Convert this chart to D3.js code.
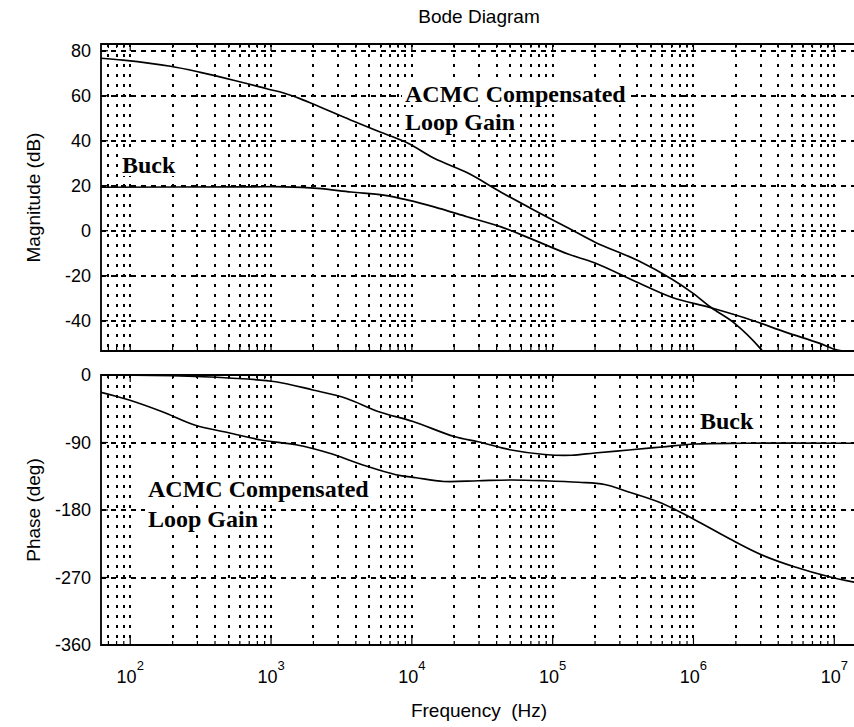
<!DOCTYPE html>
<html>
<head>
<meta charset="utf-8">
<script src="https://cdn.jsdelivr.net/npm/d3@7/dist/d3.min.js"></script>
<style>
  body { margin: 0; background: #fff; }
  svg { display: block; }
  text { font-family: "Liberation Sans", Arial, sans-serif; fill: #000; }
  .note { font-family: "Liberation Serif", "Times New Roman", serif; font-weight: bold; }
</style>
</head>
<body>
<svg id="chart" width="854" height="727"></svg>
<script>
// ===============================
// Dades (llegides del gràfic)
// ===============================
const acmcMagFreq = [61, 89, 193, 315, 542, 946, 1230, 1620, 2150, 3700, 6300, 9400, 14400, 25000, 43000, 74000, 130000, 200000, 410000, 700000, 1000000, 1350000, 1950000, 2970000, 3300000];
const acmcMag = [76.7, 75.8, 73.1, 70.4, 66.9, 63.0, 61.2, 58.6, 55.4, 49.1, 43.3, 38.9, 32.2, 25.6, 17.1, 9.1, 1.1, -5.1, -13.5, -21.5, -28.0, -34.4, -41.1, -52.2, -56];

const buckMagFreq = [62, 716, 1230, 2150, 3700, 6300, 9400, 14400, 25000, 43000, 74000, 130000, 200000, 410000, 700000, 1350000, 2600000, 4500000, 7800000, 10500000, 14500000];
const buckMag = [19.3, 19.5, 19.5, 18.8, 17.2, 15.8, 13.6, 10.6, 6.1, 1.7, -4.2, -10.5, -14.4, -23.3, -29.6, -34.4, -39.8, -45.1, -50, -53.1, -54];

const buckPhaseFreq = [62, 200, 500, 1080, 1980, 3400, 5830, 10200, 19950, 29600, 50900, 87500, 136000, 199000, 347000, 596000, 1020000, 2320000, 14500000];
const buckPhase = [0, -1, -4, -9, -20, -31, -49, -62, -82, -89, -100, -106, -107, -104, -100, -96, -92, -91, -91];

const acmcPhaseFreq = [62, 97, 169, 290, 500, 870, 1500, 2570, 4490, 7710, 10700, 16900, 29600, 50900, 87500, 153000, 234000, 347000, 596000, 1020000, 1790000, 3070000, 5270000, 9200000, 14500000];
const acmcPhase = [-23, -33, -49, -67, -77, -87, -93, -104, -120, -133, -137, -142, -141, -140, -141, -143, -146, -156, -171, -193, -218, -240, -256, -269, -277];

const magTicks = [80, 60, 40, 20, 0, -20, -40];
const phaseTicks = [0, -90, -180, -270, -360];
const decadeTicks = [1e2, 1e3, 1e4, 1e5, 1e6, 1e7];

// ===============================
// Escales
// ===============================
const svg = d3.select("#chart");

const left = 101, right = 857;
const x = d3.scaleLog().domain([62, 1.45e7]).range([left, right]);
const yMag = d3.scaleLinear().domain([-53.5, 83]).range([351, 44]);
const yPh = d3.scaleLinear().domain([-360, 0]).range([645, 375]);

svg.append("rect").attr("width", 854).attr("height", 727).attr("fill", "#fff");

// ===============================
// Eixos amb graella
// ===============================
function drawAxes(id, y, ticks) {
  const [bottom, top] = y.range();
  const g = svg.append("g").attr("class", id);

  g.append("clipPath").attr("id", "clip-" + id)
    .append("rect")
    .attr("x", left).attr("y", top)
    .attr("width", right - left).attr("height", bottom - top);

  const grid = g.append("g")
    .attr("stroke", "#000")
    .attr("stroke-width", 1.4)
    .attr("shape-rendering", "crispEdges");

  grid.selectAll(".vgrid")
    .data(x.ticks())
    .enter()
    .append("line")
    .attr("x1", d => Math.round(x(d))).attr("x2", d => Math.round(x(d)))
    .attr("y1", top).attr("y2", bottom)
    .attr("stroke-dasharray", "3,7");

  grid.selectAll(".hgrid")
    .data(ticks)
    .enter()
    .append("line")
    .attr("x1", left).attr("x2", right)
    .attr("y1", d => Math.round(y(d))).attr("y2", d => Math.round(y(d)))
    .attr("stroke-dasharray", "5,5");

  // marques de tick cap a dins
  const tickG = g.append("g").attr("stroke", "#000").attr("stroke-width", 1.2);
  x.ticks().forEach(d => {
    const len = decadeTicks.includes(d) ? 7 : 4;
    tickG.append("line").attr("x1", x(d)).attr("x2", x(d)).attr("y1", top).attr("y2", top + len);
    tickG.append("line").attr("x1", x(d)).attr("x2", x(d)).attr("y1", bottom).attr("y2", bottom - len);
  });
  ticks.forEach(d => {
    tickG.append("line").attr("x1", left).attr("x2", left + 7).attr("y1", y(d)).attr("y2", y(d));
  });

  // vora (el costat dret queda tallat a la imatge)
  g.append("path")
    .attr("d", `M${right},${top}H${left}V${bottom}H${right}`)
    .attr("fill", "none")
    .attr("stroke", "#000")
    .attr("stroke-width", 1.8);

  g.selectAll(".ylab")
    .data(ticks)
    .enter()
    .append("text")
    .attr("x", 91)
    .attr("y", d => y(d))
    .attr("dy", "0.36em")
    .attr("text-anchor", "end")
    .style("font-size", "18px")
    .text(d => d);

  return g;
}

const magG = drawAxes("mag", yMag, magTicks);
const phG = drawAxes("ph", yPh, phaseTicks);

// ===============================
// Etiquetes amb fons blanc
// ===============================
const boxG = svg.append("g");
const curveG = svg.append("g");
const noteG = svg.append("g");

const notes = [
  { text: "Buck", x: 122, y: 173 },
  { text: "ACMC Compensated", x: 405, y: 102 },
  { text: "Loop Gain", x: 405, y: 130 },
  { text: "ACMC Compensated", x: 148, y: 497 },
  { text: "Loop Gain", x: 148, y: 527 },
  { text: "Buck", x: 700, y: 429 }
];

notes.forEach(n => {
  const t = noteG.append("text")
    .attr("class", "note")
    .attr("x", n.x)
    .attr("y", n.y)
    .style("font-size", "24px")
    .text(n.text);
  const b = t.node().getBBox();
  boxG.append("rect")
    .attr("x", b.x - 3).attr("y", b.y + 2)
    .attr("width", b.width + 6).attr("height", b.height - 4)
    .attr("fill", "#fff");
});

// ===============================
// Corbes
// ===============================
function drawCurve(freq, vals, y, clipId) {
  const line = d3.line()
    .x(d => x(d[0]))
    .y(d => y(d[1]))
    .curve(d3.curveCatmullRom.alpha(0.5));

  curveG.append("path")
    .datum(d3.zip(freq, vals))
    .attr("d", line)
    .attr("fill", "none")
    .attr("stroke", "#000")
    .attr("stroke-width", 1.7)
    .attr("clip-path", `url(#${clipId})`);
}

drawCurve(acmcMagFreq, acmcMag, yMag, "clip-mag");
drawCurve(buckMagFreq, buckMag, yMag, "clip-mag");
drawCurve(buckPhaseFreq, buckPhase, yPh, "clip-ph");
drawCurve(acmcPhaseFreq, acmcPhase, yPh, "clip-ph");

// ===============================
// Eix X (potències de 10)
// ===============================
decadeTicks.forEach((d, i) => {
  const t = svg.append("text")
    .attr("x", x(d))
    .attr("y", 683)
    .attr("text-anchor", "middle")
    .style("font-size", "18px")
    .text("10");
  t.append("tspan")
    .attr("dy", -13)
    .style("font-size", "13px")
    .text(i + 2);
});

// ===============================
// Títols
// ===============================
svg.append("text")
  .attr("x", 479)
  .attr("y", 23)
  .attr("text-anchor", "middle")
  .style("font-size", "19px")
  .text("Bode Diagram");

svg.append("text")
  .attr("x", 479)
  .attr("y", 717)
  .attr("text-anchor", "middle")
  .style("font-size", "19px")
  .style("white-space", "pre")
  .text("Frequency  (Hz)");

svg.append("text")
  .attr("transform", `translate(40, ${(44 + 351) / 2}) rotate(-90)`)
  .attr("text-anchor", "middle")
  .style("font-size", "19px")
  .text("Magnitude (dB)");

svg.append("text")
  .attr("transform", `translate(40, ${(375 + 645) / 2}) rotate(-90)`)
  .attr("text-anchor", "middle")
  .style("font-size", "19px")
  .text("Phase (deg)");
</script>
</body>
</html>
